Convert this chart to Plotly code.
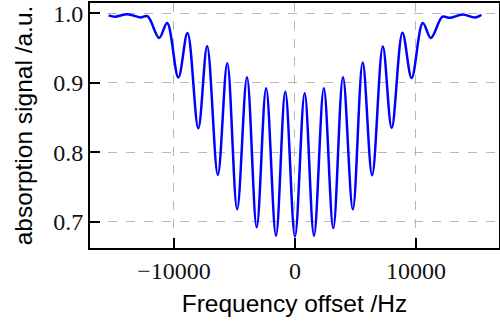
import plotly.graph_objects as go

# Frequency offsets (Hz) of the curve's turning points
freq_hz = [
    -15400, -14876, -13843, -12781, -12190, -11227, -10566, -9640, -8884, -7992,
    -7260, -6376, -5595, -4781, -3967, -3165, -2384, -1570, -800, 0,
    800, 1570, 2384, 3165, 3967, 4781, 5595, 6376, 7260, 7992,
    8884, 9640, 10566, 11227, 12190, 12781, 13843, 14876, 15400,
]
# Absorption signal (a.u.) at those points
signal = [
    0.997, 0.995, 0.9985, 0.994, 0.9957, 0.9645, 0.986, 0.9077, 0.9717, 0.8346,
    0.9524, 0.7675, 0.928, 0.718, 0.908, 0.6924, 0.892, 0.680, 0.887, 0.679,
    0.885, 0.680, 0.892, 0.691, 0.908, 0.718, 0.929, 0.767, 0.952, 0.835,
    0.972, 0.907, 0.986, 0.9645, 0.995, 0.9934, 0.998, 0.994, 0.9977,
]

x_tick_vals = [-10000, 0, 10000]
x_tick_text = ["\u221210000", "0", "10000"]
y_tick_vals = [0.7, 0.8, 0.9, 1.0]
y_tick_text = ["0.7", "0.8", "0.9", "1.0"]

tick_font = dict(family="Liberation Serif", size=24, color="#111111")
title_font = dict(family="Liberation Sans", size=24.5, color="black")

fig = go.Figure(
    go.Scatter(
        x=freq_hz,
        y=signal,
        mode="lines",
        line=dict(color="#0000ff", width=2.5, shape="spline", smoothing=1),
        hoverinfo="skip",
    )
)

fig.update_layout(
    width=500,
    height=323,
    margin=dict(l=90, r=1, t=3, b=75),
    paper_bgcolor="white",
    plot_bgcolor="white",
    showlegend=False,
)

common = dict(
    ticks="inside",
    ticklen=10,
    tickwidth=1.5,
    tickcolor="black",
    showline=True,
    linecolor="black",
    linewidth=1.7,
    mirror=True,
    showgrid=True,
    gridcolor="#b8b8b8",
    griddash="dash",
    gridwidth=1,
    zeroline=False,
    tickfont=tick_font,
)

fig.update_xaxes(
    range=[-16940, 16860],
    tickmode="array",
    tickvals=x_tick_vals,
    ticktext=x_tick_text,
    title=dict(text="Frequency offset /Hz", font=title_font, standoff=12),
    automargin=False,
    **common,
)
fig.update_yaxes(
    range=[0.6624, 1.0147],
    tickmode="array",
    tickvals=y_tick_vals,
    ticktext=y_tick_text,
    title=dict(text="absorption signal /a.u.", font=title_font, standoff=14),
    automargin=False,
    **common,
)

fig.write_html("out.html")
